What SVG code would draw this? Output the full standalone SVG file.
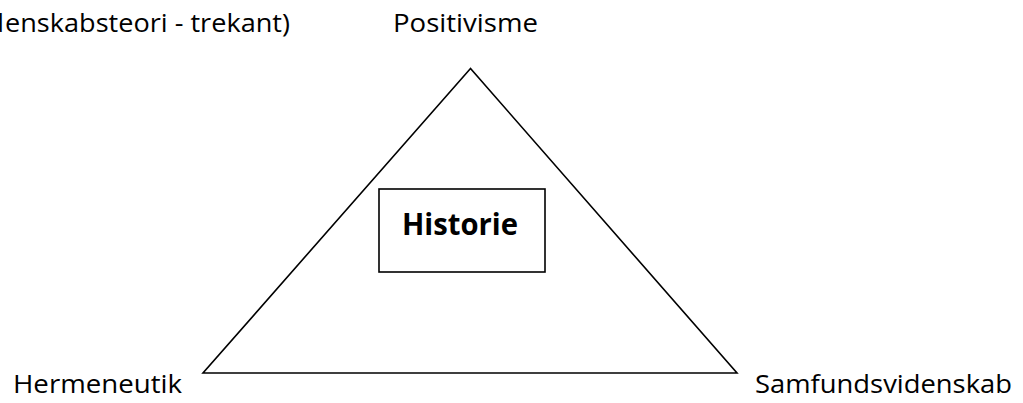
<svg xmlns="http://www.w3.org/2000/svg" width="1023" height="403" viewBox="0 0 1023 403">
<style>
.lbl{font-family:"Open Sans","Liberation Sans",sans-serif;font-size:26px;fill:#000}
.bold{font-family:"Open Sans","Liberation Sans",sans-serif;font-size:31px;font-weight:bold;fill:#000}
.ln{fill:none;stroke:#000;stroke-width:1.6}
</style>
<rect width="1023" height="403" fill="#fff"/>
<g id="connectors">
<polygon class="ln" points="470.5,68.5 203,373 737,373" stroke-linejoin="miter"/>
</g>
<g id="title">
<text class="lbl" y="32"><tspan x="4" text-anchor="end">(Vid</tspan><tspan x="5" textLength="285" lengthAdjust="spacingAndGlyphs">enskabsteori - trekant)</tspan></text>
</g>
<g id="positivisme">
<text class="lbl" x="393" y="32" textLength="145" lengthAdjust="spacingAndGlyphs">Positivisme</text>
</g>
<g id="historie">
<rect class="ln" x="379" y="189" width="166" height="83" stroke-width="2"/>
<text class="bold" x="402" y="235" textLength="116" lengthAdjust="spacingAndGlyphs">Historie</text>
</g>
<g id="hermeneutik">
<text class="lbl" x="13" y="393" textLength="169" lengthAdjust="spacingAndGlyphs">Hermeneutik</text>
</g>
<g id="samfundsvidenskab">
<text class="lbl" x="755" y="393" textLength="257" lengthAdjust="spacingAndGlyphs">Samfundsvidenskab</text>
</g>
</svg>
